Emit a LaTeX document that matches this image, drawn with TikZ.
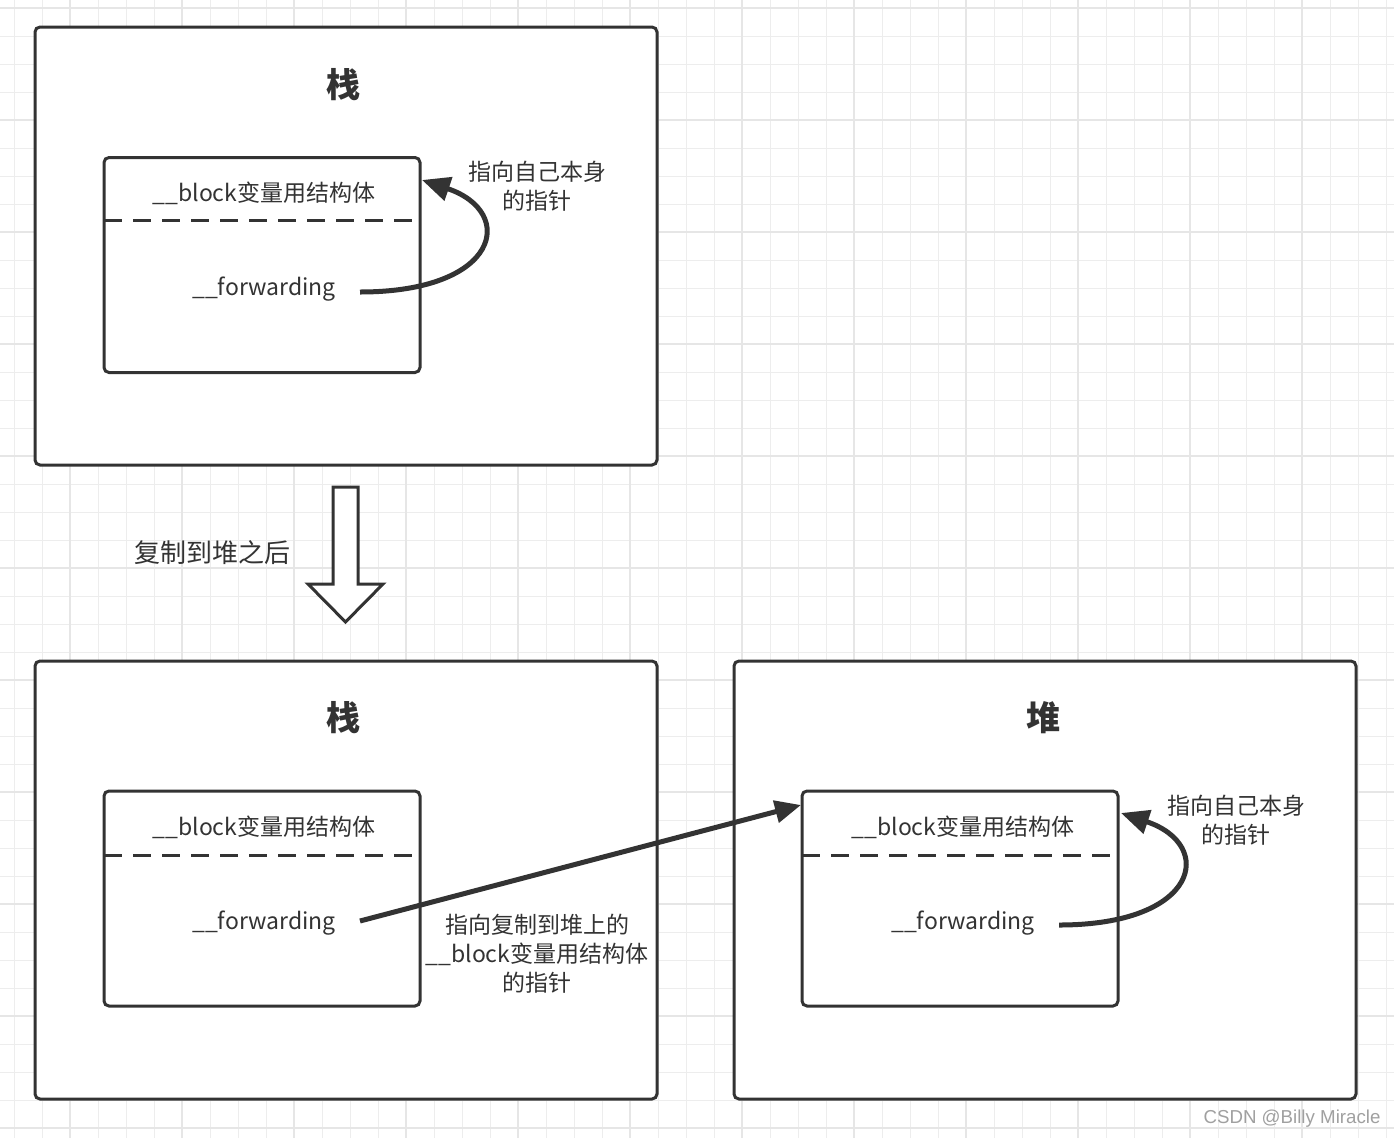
\documentclass[tikz,border=0pt]{standalone}
\usepackage{fontspec}
\setmainfont{Noto Sans CJK SC}
\newfontfamily\wmfont{Liberation Sans}
\usetikzlibrary{arrows.meta,calc}
\definecolor{ink}{HTML}{333333}
\definecolor{gridc}{HTML}{EDEDED}
\definecolor{gridm}{HTML}{E6E6E6}
\definecolor{wm}{HTML}{A0A0A0}
\tikzset{
  outerbox/.style={draw=ink, line width=3, rounded corners=5, fill=white,
    minimum width=622, minimum height=438, inner sep=0, outer sep=0},
  innerbox/.style={draw=ink, line width=3, rounded corners=5, fill=white,
    minimum width=316, minimum height=215, inner sep=0, outer sep=0},
  sep/.style={draw=ink, line width=3, dash pattern=on 18 off 11},
  title/.style={text=ink, font=\fontsize{34}{40}\selectfont\bfseries, inner sep=0},
  lbl/.style={text=ink, font=\fontsize{23}{29}\selectfont, inner sep=0, align=center},
  bigl/.style={text=ink, font=\fontsize{26}{32}\selectfont, inner sep=0},
  ptr/.style={draw=ink, line width=5, -{Triangle[length=28,width=24]}},
  gridline/.style={gridc, line width=1},
  gridmajor/.style={gridm, line width=2},
}
\begin{document}
\begin{tikzpicture}[x=1pt,y=-1pt]
\useasboundingbox[fill=white] (0,0) rectangle (1394,1138);
% grid
\foreach \i in {0,...,49} \draw[gridline] ({14+28*\i},0) -- ({14+28*\i},1138);
\foreach \i in {0,...,40} \draw[gridline] (0,{8+28*\i}) -- (1394,{8+28*\i});
\foreach \i in {0,...,11} \draw[gridmajor] ({70+112*\i},0) -- ({70+112*\i},1138);
\foreach \i in {0,...,10} \draw[gridmajor] (0,{8+112*\i}) -- (1394,{8+112*\i});

% ---------- top: stack ----------
\node[outerbox] (st1) at (346,246) {};
\node[title] (st1t) at (343,85) {栈};
\node[innerbox] (in1) at (262,265) {};
\draw[sep] (104,220) -- (420,220);
\node[lbl] (blk1) at (264,193) {\_\_block变量用结构体};
\node[lbl] (fwd1) at (264,289) {\_\_forwarding};
\coordinate (a1s) at (360,292);
\coordinate (a1e) at (422,180);
\draw[ptr] (a1s) .. controls (500,292) and (517,212) .. (a1e);
\node[lbl] (l1) at (537,186) {指向自己本身\\的指针};

% ---------- block arrow ----------
\draw[draw=ink, line width=3, fill=white, line join=miter]
  (333,487) -- (358,487) -- (358,584) -- (383,584) -- (345.5,622)
  -- (308,584) -- (333,584) -- cycle;
\node[bigl] (copy) at (212,553) {复制到堆之后};

% ---------- bottom left: stack ----------
\node[outerbox] (st2) at (346,880) {};
\node[title] (st2t) at (343,718) {栈};
\node[innerbox] (in2) at (262,898.5) {};
\draw[sep] (104,855) -- (420,855);
\node[lbl] (blk2) at (264,827) {\_\_block变量用结构体};
\node[lbl] (fwd2) at (264,923) {\_\_forwarding};

% ---------- bottom right: heap ----------
\node[outerbox] (hp) at (1045,880) {};
\node[title] (hpt) at (1043,718) {堆};
\node[innerbox] (in3) at (960,898.5) {};
\draw[sep] (802,855) -- (1118,855);
\node[lbl] (blk3) at (963,827) {\_\_block变量用结构体};
\node[lbl] (fwd3) at (963,923) {\_\_forwarding};
\coordinate (a3s) at (1059,925);
\coordinate (a3e) at (1121,813);
\draw[ptr] (a3s) .. controls (1199,925) and (1216,845) .. (a3e);
\node[lbl] (l3) at (1236,820) {指向自己本身\\的指针};

% ---------- cross pointer ----------
\coordinate (a2s) at (360,921);
\coordinate (a2e) at (801,805);
\draw[ptr, -{Triangle[length=26,width=22]}] (a2s) -- (a2e);
\node[lbl] (l2) at (537,954) {指向复制到堆上的\\\_\_block变量用结构体\\的指针};

% watermark
\node[text=wm, font=\wmfont\fontsize{18.7}{22}\selectfont, inner sep=0] (wmk) at (1292,1119) {CSDN @Billy Miracle};
\end{tikzpicture}
\end{document}
